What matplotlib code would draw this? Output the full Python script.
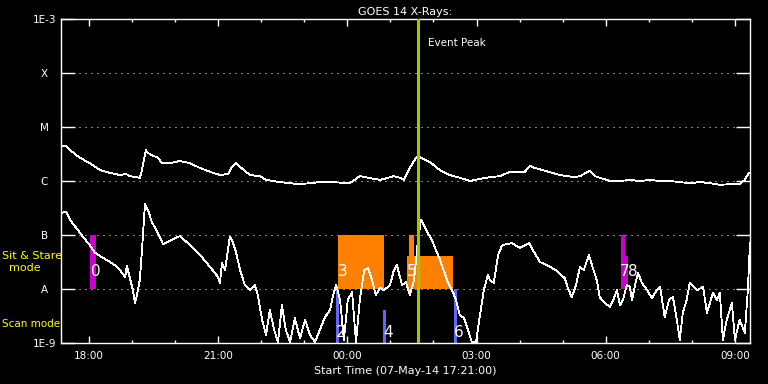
import numpy as np
import matplotlib
matplotlib.use("Agg")
import matplotlib.pyplot as plt
from matplotlib.patches import Rectangle

# time in hours after 07-May-14 00:00 (values > 24 are on 08-May)
t_long = [17.35, 17.47, 17.56, 17.79, 18.02, 18.26, 18.49, 18.72, 18.86, 18.95,
          19.18, 19.23, 19.32, 19.37, 19.46, 19.60, 19.70, 19.88, 20.11, 20.35,
          20.58, 20.81, 21.04, 21.23, 21.32, 21.41, 21.51, 21.74, 21.97, 22.11,
          22.43, 22.90, 23.36, 23.60, 24.06, 24.29, 24.48, 24.76, 25.08, 25.22,
          25.31, 25.45, 25.59, 25.64, 25.69, 25.92, 26.15, 26.38, 26.61, 26.85,
          27.08, 27.31, 27.54, 27.78, 28.12, 28.24, 28.36, 28.59, 28.94, 29.28,
          29.40, 29.59, 29.63, 29.75, 29.86, 30.10, 30.33, 30.56, 30.79, 31.03,
          31.26, 31.49, 31.72, 31.95, 32.19, 32.42, 32.65, 32.88, 33.11, 33.23,
          33.32]
# log10 flux, 1-8 A channel
f_long = [-5.35, -5.35, -5.43, -5.57, -5.67, -5.80, -5.85, -5.89, -5.87, -5.91,
          -5.94, -5.80, -5.43, -5.48, -5.52, -5.57, -5.67, -5.67, -5.63, -5.67,
          -5.76, -5.83, -5.89, -5.87, -5.74, -5.67, -5.74, -5.89, -5.91, -5.98,
          -6.02, -6.06, -6.02, -6.02, -6.04, -5.91, -5.94, -5.98, -5.91, -5.94,
          -5.98, -5.76, -5.57, -5.54, -5.56, -5.65, -5.80, -5.89, -5.94, -6.00,
          -5.96, -5.93, -5.91, -5.83, -5.83, -5.72, -5.76, -5.81, -5.89, -5.93,
          -5.91, -5.83, -5.81, -5.91, -5.94, -6.00, -6.00, -5.98, -6.00, -5.98,
          -6.00, -6.00, -6.02, -6.04, -6.02, -6.04, -6.07, -6.06, -6.06, -5.98,
          -5.85]

t_short = [17.35, 17.47, 17.56, 17.79, 18.02, 18.14, 18.26, 18.49, 18.60, 18.72,
           18.84, 18.88, 18.95, 19.02, 19.07, 19.11, 19.18, 19.23, 19.30, 19.37,
           19.46, 19.60, 19.72, 19.83, 20.00, 20.11, 20.35, 20.58, 20.81, 21.00,
           21.04, 21.09, 21.16, 21.27, 21.32, 21.41, 21.51, 21.62, 21.74, 21.85,
           21.92, 22.02, 22.11, 22.20, 22.30, 22.39, 22.48, 22.57, 22.67, 22.78,
           22.90, 23.02, 23.13, 23.25, 23.36, 23.48, 23.60, 23.67, 23.74, 23.83,
           23.92, 24.01, 24.11, 24.20, 24.29, 24.39, 24.48, 24.57, 24.66, 24.76,
           24.85, 24.99, 25.08, 25.15, 25.27, 25.36, 25.45, 25.55, 25.64, 25.71,
           25.83, 25.96, 26.15, 26.34, 26.43, 26.52, 26.61, 26.71, 26.80, 26.89,
           26.99, 27.08, 27.17, 27.26, 27.31, 27.40, 27.50, 27.59, 27.68, 27.82,
           28.01, 28.22, 28.31, 28.47, 28.66, 28.84, 29.05, 29.12, 29.21, 29.31,
           29.40, 29.49, 29.61, 29.70, 29.79, 29.86, 29.98, 30.10, 30.19, 30.26,
           30.33, 30.40, 30.49, 30.56, 30.61, 30.68, 30.75, 30.84, 30.96, 31.07,
           31.19, 31.26, 31.37, 31.47, 31.56, 31.65, 31.72, 31.79, 31.88, 31.95,
           32.12, 32.26, 32.35, 32.49, 32.58, 32.65, 32.72, 32.81, 32.93, 33.00,
           33.11, 33.23, 33.30, 33.35]
# log10 flux, 0.5-4 A channel
f_short = [-6.59, -6.57, -6.72, -6.96, -7.19, -7.33, -7.39, -7.50, -7.56, -7.65,
           -7.78, -7.57, -7.80, -8.02, -8.26, -8.13, -7.83, -7.28, -6.43, -6.54,
           -6.76, -6.96, -7.17, -7.13, -7.06, -7.02, -7.19, -7.37, -7.59, -7.78,
           -7.89, -7.52, -7.65, -7.04, -7.09, -7.31, -7.65, -7.93, -8.02, -7.93,
           -8.11, -8.57, -8.85, -8.39, -8.76, -8.98, -8.30, -8.76, -8.98, -8.54,
           -8.91, -8.57, -8.85, -8.98, -8.76, -8.52, -8.39, -8.11, -7.93, -8.20,
           -8.94, -8.20, -8.06, -8.98, -8.20, -7.65, -7.61, -7.83, -8.11, -7.98,
           -8.02, -7.93, -7.65, -7.56, -7.93, -7.87, -8.11, -7.83, -7.09, -6.72,
           -6.91, -7.09, -7.46, -7.89, -8.02, -8.20, -8.48, -8.54, -8.76, -8.98,
           -8.98, -8.48, -8.02, -7.74, -7.83, -7.89, -7.37, -7.20, -7.17, -7.15,
           -7.24, -7.15, -7.28, -7.50, -7.57, -7.65, -7.80, -7.98, -8.15, -7.93,
           -7.59, -7.65, -7.37, -7.61, -7.83, -8.15, -8.26, -8.33, -8.17, -8.02,
           -8.30, -8.20, -7.93, -7.96, -8.20, -7.93, -7.70, -7.89, -8.02, -8.17,
           -8.02, -7.96, -8.52, -8.20, -8.15, -8.57, -8.94, -8.44, -8.20, -7.89,
           -8.02, -7.96, -8.44, -8.07, -8.20, -8.07, -8.94, -8.57, -8.26, -8.94,
           -8.57, -8.81, -8.02, -7.15]

# observation blocks: (start, end, log10 top, bottom, colour key)
obs_start = [18.02, 23.78, 25.38, 25.43, 30.35, 30.35, 23.735, 24.826, 26.475]
obs_end = [18.16, 24.85, 26.45, 25.55, 30.445, 30.515, 23.80, 24.896, 26.545]
obs_top = [-7.0, -7.0, -7.39, -7.0, -7.0, -7.39, -8.0, -8.39, -8.0]
obs_bot = [-8.0, -8.0, -8.0, -8.0, -8.0, -8.0, -9.0, -9.0, -9.0]
obs_kind = ["m", "o", "o", "o", "m", "m", "b", "b", "b"]

# numbered labels
lab_text = ["0", "3", "5", "7", "8", "2", "4", "6"]
lab_t = [18.05, 23.78, 25.39, 30.33, 30.52, 23.74, 24.84, 26.48]
lab_f = [-7.68, -7.68, -7.68, -7.68, -7.68, -8.81, -8.81, -8.81]

peak_t = 25.64
level_f = [-9, -8, -7, -6, -5, -4, -3]
level_lab = ["1E-9", "A", "B", "C", "M", "X", "1E-3"]
hour_ticks = [18, 21, 24, 27, 30, 33]
hour_lab = ["18:00", "21:00", "00:00", "03:00", "06:00", "09:00"]

colors = {"m": "#c800c8", "o": "#ff8000", "b": "#6464ff"}

plt.rcParams["font.family"] = "DejaVu Sans"
fig = plt.figure(figsize=(7.68, 3.84), dpi=100, facecolor="black")
ax = fig.add_axes([61 / 768, 41 / 384, 689 / 768, 324 / 384], facecolor="black")
ax.set_yscale("log")
ax.set_xlim(17.35, 33.35)
ax.set_ylim(1e-9, 1e-3)

# dotted class lines
for lv in level_f[1:-1]:
    ax.axhline(10 ** lv, color="white", lw=0.72, ls=(0, (1, 5)), zorder=1)

for s, e, top, bot, k in zip(obs_start, obs_end, obs_top, obs_bot, obs_kind):
    ax.add_patch(Rectangle((s, 10 ** bot), e - s, 10 ** top - 10 ** bot,
                           facecolor=colors[k], edgecolor="none", zorder=2))

ax.plot(t_long, 10 ** np.array(f_long), color="white", lw=0.6, antialiased=False, zorder=3)
ax.plot(t_short, 10 ** np.array(f_short), color="white", lw=0.6, antialiased=False, zorder=3)

for s, t, f in zip(lab_text, lab_t, lab_f):
    ax.text(t, 10 ** f, s, color="white", fontsize=11, ha="left", va="center", zorder=4)

ax.axvline(peak_t, color="#a0c800", lw=2.2, zorder=5)
ax.text(peak_t + 0.23, 10 ** -3.45, "Event Peak", color="white", fontsize=7.5,
        ha="left", va="center")

for sp in ax.spines.values():
    sp.set_color("white")
    sp.set_linewidth(1)

ax.set_yticks([10 ** v for v in level_f])
ax.set_yticklabels(level_lab)
ax.minorticks_off()
ax.tick_params(axis="y", which="major", direction="in", length=10, width=1,
               color="white", labelcolor="white", labelsize=7.5, left=True,
               right=True, pad=12)
for lab in ax.get_yticklabels():
    lab.set_horizontalalignment("center")

ax.set_xticks(hour_ticks)
ax.set_xticklabels(hour_lab)
ax.set_xticks(np.arange(18, 34), minor=True)
ax.tick_params(axis="x", which="major", direction="in", length=5, width=1,
               color="white", labelcolor="white", labelsize=7.5, top=True, pad=6)
ax.tick_params(axis="x", which="minor", direction="in", length=2.5, width=1,
               color="white", top=True)

ax.set_title("GOES 14 X-Rays:", color="white", fontsize=8, pad=3)
ax.set_xlabel("Start Time (07-May-14 17:21:00)", color="white", fontsize=8, labelpad=3)

fig.text(2 / 768, 1 - 262 / 384, "Sit & Stare\n  mode", color="yellow", fontsize=8,
         ha="left", va="center", linespacing=1.2)
fig.text(2 / 768, 1 - 324 / 384, "Scan mode", color="yellow", fontsize=7.5,
         ha="left", va="center")

fig.savefig("out.png", dpi=100, facecolor="black")
